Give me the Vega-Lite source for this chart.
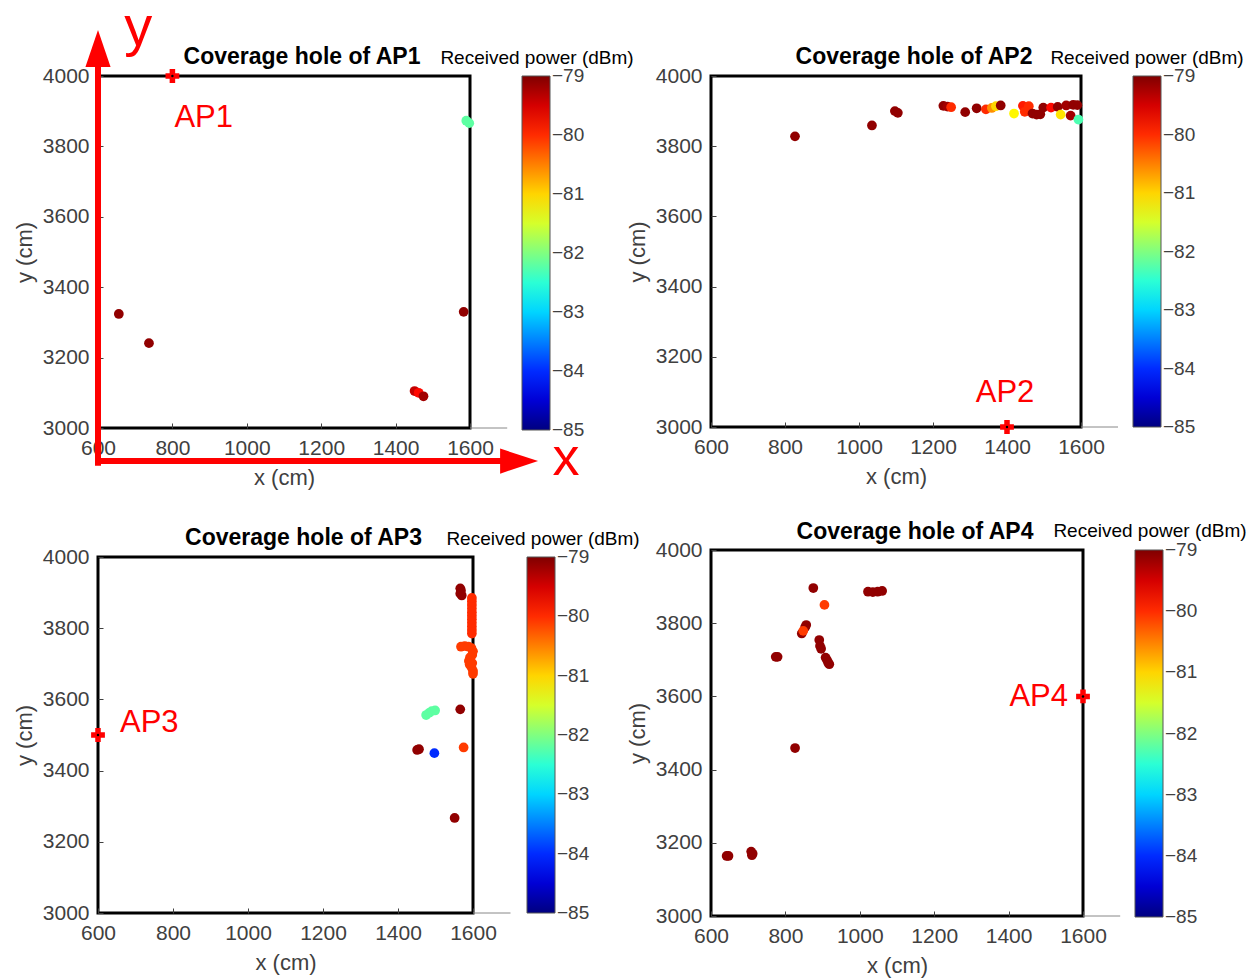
{
  "$schema": "https://vega.github.io/schema/vega-lite/v6.json",
  "background": "white",
  "padding": {"left": 11, "top": -2, "right": 5, "bottom": 5},
  "datasets": {
    "pts": [
      {"ap": "AP1", "x": 656, "y": 3324, "p": -79.1},
      {"ap": "AP1", "x": 737, "y": 3241, "p": -79.1},
      {"ap": "AP1", "x": 1451, "y": 3105, "p": -79.4},
      {"ap": "AP1", "x": 1462, "y": 3100, "p": -79.8},
      {"ap": "AP1", "x": 1475, "y": 3090, "p": -79.2},
      {"ap": "AP1", "x": 1583, "y": 3330, "p": -79.1},
      {"ap": "AP1", "x": 1590, "y": 3873, "p": -82.2},
      {"ap": "AP1", "x": 1598, "y": 3866, "p": -82.2},
      {"ap": "AP2", "x": 827, "y": 3828, "p": -79.1},
      {"ap": "AP2", "x": 1035, "y": 3859, "p": -79.1},
      {"ap": "AP2", "x": 1097, "y": 3900, "p": -79.1},
      {"ap": "AP2", "x": 1105, "y": 3895, "p": -79.1},
      {"ap": "AP2", "x": 1228, "y": 3915, "p": -79.1},
      {"ap": "AP2", "x": 1239, "y": 3913, "p": -79.2},
      {"ap": "AP2", "x": 1249, "y": 3911, "p": -80.0},
      {"ap": "AP2", "x": 1287, "y": 3897, "p": -79.1},
      {"ap": "AP2", "x": 1318, "y": 3908, "p": -79.1},
      {"ap": "AP2", "x": 1343, "y": 3905, "p": -80.0},
      {"ap": "AP2", "x": 1359, "y": 3909, "p": -80.6},
      {"ap": "AP2", "x": 1370, "y": 3914, "p": -81.0},
      {"ap": "AP2", "x": 1383, "y": 3916, "p": -79.1},
      {"ap": "AP2", "x": 1419, "y": 3893, "p": -81.2},
      {"ap": "AP2", "x": 1443, "y": 3915, "p": -79.9},
      {"ap": "AP2", "x": 1448, "y": 3898, "p": -80.0},
      {"ap": "AP2", "x": 1459, "y": 3914, "p": -80.0},
      {"ap": "AP2", "x": 1469, "y": 3893, "p": -79.1},
      {"ap": "AP2", "x": 1480, "y": 3890, "p": -79.1},
      {"ap": "AP2", "x": 1490, "y": 3891, "p": -79.1},
      {"ap": "AP2", "x": 1498, "y": 3910, "p": -79.1},
      {"ap": "AP2", "x": 1519, "y": 3910, "p": -79.8},
      {"ap": "AP2", "x": 1537, "y": 3912, "p": -79.1},
      {"ap": "AP2", "x": 1545, "y": 3890, "p": -81.1},
      {"ap": "AP2", "x": 1560, "y": 3916, "p": -79.2},
      {"ap": "AP2", "x": 1572, "y": 3887, "p": -79.2},
      {"ap": "AP2", "x": 1579, "y": 3918, "p": -79.1},
      {"ap": "AP2", "x": 1590, "y": 3917, "p": -79.1},
      {"ap": "AP2", "x": 1593, "y": 3876, "p": -82.3},
      {"ap": "AP3", "x": 1566, "y": 3912, "p": -79.1},
      {"ap": "AP3", "x": 1568, "y": 3905, "p": -79.1},
      {"ap": "AP3", "x": 1566, "y": 3897, "p": -79.1},
      {"ap": "AP3", "x": 1570, "y": 3892, "p": -79.1},
      {"ap": "AP3", "x": 1597, "y": 3785, "p": -80.0},
      {"ap": "AP3", "x": 1597, "y": 3795, "p": -80.0},
      {"ap": "AP3", "x": 1597, "y": 3805, "p": -80.0},
      {"ap": "AP3", "x": 1597, "y": 3815, "p": -80.0},
      {"ap": "AP3", "x": 1597, "y": 3825, "p": -80.0},
      {"ap": "AP3", "x": 1597, "y": 3835, "p": -80.0},
      {"ap": "AP3", "x": 1597, "y": 3845, "p": -80.0},
      {"ap": "AP3", "x": 1597, "y": 3855, "p": -80.0},
      {"ap": "AP3", "x": 1597, "y": 3865, "p": -80.0},
      {"ap": "AP3", "x": 1597, "y": 3875, "p": -80.0},
      {"ap": "AP3", "x": 1597, "y": 3885, "p": -80.0},
      {"ap": "AP3", "x": 1568, "y": 3748, "p": -80.1},
      {"ap": "AP3", "x": 1578, "y": 3750, "p": -80.1},
      {"ap": "AP3", "x": 1588, "y": 3748, "p": -80.1},
      {"ap": "AP3", "x": 1596, "y": 3744, "p": -80.1},
      {"ap": "AP3", "x": 1600, "y": 3735, "p": -80.1},
      {"ap": "AP3", "x": 1598, "y": 3725, "p": -80.1},
      {"ap": "AP3", "x": 1592, "y": 3718, "p": -80.1},
      {"ap": "AP3", "x": 1589, "y": 3708, "p": -80.1},
      {"ap": "AP3", "x": 1591, "y": 3698, "p": -80.1},
      {"ap": "AP3", "x": 1596, "y": 3690, "p": -80.1},
      {"ap": "AP3", "x": 1600, "y": 3680, "p": -80.1},
      {"ap": "AP3", "x": 1600, "y": 3672, "p": -80.1},
      {"ap": "AP3", "x": 1598, "y": 3702, "p": -80.1},
      {"ap": "AP3", "x": 1475, "y": 3556, "p": -82.2},
      {"ap": "AP3", "x": 1483, "y": 3562, "p": -82.2},
      {"ap": "AP3", "x": 1490, "y": 3567, "p": -82.2},
      {"ap": "AP3", "x": 1499, "y": 3569, "p": -82.2},
      {"ap": "AP3", "x": 1566, "y": 3572, "p": -79.1},
      {"ap": "AP3", "x": 1451, "y": 3458, "p": -79.1},
      {"ap": "AP3", "x": 1456, "y": 3460, "p": -79.1},
      {"ap": "AP3", "x": 1497, "y": 3449, "p": -84.0},
      {"ap": "AP3", "x": 1575, "y": 3465, "p": -80.1},
      {"ap": "AP3", "x": 1551, "y": 3267, "p": -79.1},
      {"ap": "AP4", "x": 875, "y": 3896, "p": -79.1},
      {"ap": "AP4", "x": 905, "y": 3850, "p": -80.1},
      {"ap": "AP4", "x": 856, "y": 3795, "p": -79.1},
      {"ap": "AP4", "x": 853, "y": 3789, "p": -79.1},
      {"ap": "AP4", "x": 844, "y": 3772, "p": -79.1},
      {"ap": "AP4", "x": 848, "y": 3779, "p": -80.1},
      {"ap": "AP4", "x": 891, "y": 3754, "p": -79.1},
      {"ap": "AP4", "x": 893, "y": 3738, "p": -79.1},
      {"ap": "AP4", "x": 896, "y": 3730, "p": -79.1},
      {"ap": "AP4", "x": 908, "y": 3706, "p": -79.1},
      {"ap": "AP4", "x": 912, "y": 3699, "p": -79.1},
      {"ap": "AP4", "x": 915, "y": 3692, "p": -79.1},
      {"ap": "AP4", "x": 918, "y": 3688, "p": -79.1},
      {"ap": "AP4", "x": 779, "y": 3708, "p": -79.1},
      {"ap": "AP4", "x": 774, "y": 3708, "p": -79.1},
      {"ap": "AP4", "x": 826, "y": 3459, "p": -79.1},
      {"ap": "AP4", "x": 642, "y": 3164, "p": -79.1},
      {"ap": "AP4", "x": 647, "y": 3164, "p": -79.1},
      {"ap": "AP4", "x": 708, "y": 3176, "p": -79.1},
      {"ap": "AP4", "x": 710, "y": 3166, "p": -79.1},
      {"ap": "AP4", "x": 712, "y": 3170, "p": -79.1},
      {"ap": "AP4", "x": 1022, "y": 3886, "p": -79.1},
      {"ap": "AP4", "x": 1035, "y": 3885, "p": -79.1},
      {"ap": "AP4", "x": 1048, "y": 3886, "p": -79.1},
      {"ap": "AP4", "x": 1060, "y": 3888, "p": -79.1}
    ],
    "aps": [
      {"ap": "AP1", "x": 800, "y": 4000},
      {"ap": "AP2", "x": 1400, "y": 3000},
      {"ap": "AP3", "x": 600, "y": 3500},
      {"ap": "AP4", "x": 1600, "y": 3600}
    ]
  },
  "bounds": "flush",
  "spacing": 613,
  "resolve": {"scale": {"color": "independent"}, "legend": {"color": "independent"}},
  "hconcat": [
    {
      "bounds": "flush",
      "spacing": 129,
      "resolve": {"scale": {"color": "independent"}, "legend": {"color": "independent"}},
      "vconcat": [
        {
          "width": 372, "height": 352,
          "title": {"text": "Coverage hole of AP1", "offset": -69, "dx": 18},
          "layer": [
            {
              "data": {"name": "pts"},
              "transform": [{"filter": "datum.ap == 'AP1'"}],
              "mark": {"type": "circle", "size": 95, "opacity": 1},
              "encoding": {
                "x": {"field": "x", "type": "quantitative", "title": "x (cm)", "scale": {"domain": [600, 1600], "nice": false, "zero": false}, "axis": {"values": [600, 800, 1000, 1200, 1400, 1600]}},
                "y": {"field": "y", "type": "quantitative", "title": "y (cm)", "scale": {"domain": [3000, 4000], "nice": false, "zero": false}, "axis": {"values": [3000, 3200, 3400, 3600, 3800, 4000]}},
                "color": {"field": "p", "type": "quantitative",
                  "scale": {"domain": [-85, -84.25, -82.75, -81.25, -79.75, -79], "range": ["#000080", "#0000ff", "#00ffff", "#ffff00", "#ff0000", "#800000"], "interpolate": "rgb"},
                  "legend": {"gradientLength": 354, "offset": 52, "encoding": {"labels": {"baseline": {"value": "middle"}}}}}
              }
            },
            {
              "data": {"name": "aps"},
              "transform": [{"filter": "datum.ap == 'AP1'"}],
              "layer": [
                {"mark": {"type": "point", "shape": "cross", "filled": true, "color": "#ff0000", "size": 190, "opacity": 1}},
                {"mark": {"type": "circle", "color": "#000000", "size": 6, "opacity": 1}},
                {"mark": {"type": "text", "color": "#ff0000", "fontSize": 31, "align": "left", "baseline": "alphabetic", "dx": 2, "dy": 51}, "encoding": {"text": {"field": "ap"}}}
              ],
              "encoding": {"x": {"field": "x", "type": "quantitative"}, "y": {"field": "y", "type": "quantitative"}}
            },
            {
              "data": {"values": [{}]},
              "mark": {"type": "text", "color": "#000000", "fontSize": 19, "align": "center", "baseline": "alphabetic", "dx": 67, "dy": -12},
              "encoding": {"x": {"datum": 1600}, "y": {"datum": 4000}, "text": {"value": "Received power (dBm)"}}
            },
            {
              "data": {"values": [{}]},
              "mark": {"type": "rule", "color": "#888888", "strokeWidth": 1},
              "encoding": {"x": {"datum": 1600}, "x2": {"datum": 1700}, "y": {"datum": 3000}}
            },
            {
              "data": {"values": [{}]},
              "mark": {"type": "rule", "color": "#ff0000", "strokeWidth": 6},
              "encoding": {"x": {"datum": 600}, "y": {"datum": 2893}, "y2": {"datum": 4065}}
            },
            {
              "data": {"values": [{}]},
              "mark": {"type": "rule", "color": "#ff0000", "strokeWidth": 6},
              "encoding": {"x": {"datum": 592}, "x2": {"datum": 1700}, "y": {"datum": 2906}}
            },
            {
              "data": {"values": [{}]},
              "mark": {"type": "point", "shape": "M -0.68 1 L 0 -1 L 0.68 1 Z", "filled": true, "color": "#ff0000", "size": 1369, "opacity": 1},
              "encoding": {"x": {"datum": 600}, "y": {"datum": 4078}}
            },
            {
              "data": {"values": [{}]},
              "mark": {"type": "point", "shape": "M -1 -0.66 L 1 0 L -1 0.66 Z", "filled": true, "color": "#ff0000", "size": 1444, "opacity": 1},
              "encoding": {"x": {"datum": 1732}, "y": {"datum": 2906}}
            },
            {
              "data": {"values": [{}]},
              "mark": {"type": "text", "color": "#ff0000", "fontSize": 56, "align": "center", "baseline": "alphabetic"},
              "encoding": {"x": {"datum": 708}, "y": {"datum": 4089}, "text": {"value": "y"}}
            },
            {
              "data": {"values": [{}]},
              "mark": {"type": "text", "color": "#ff0000", "fontSize": 54, "align": "center", "baseline": "alphabetic"},
              "encoding": {"x": {"datum": 1858}, "y": {"datum": 2866}, "text": {"value": "x"}}
            }
          ]
        },
        {
          "width": 375, "height": 356,
          "title": {"text": "Coverage hole of AP3", "offset": -20, "dx": 18},
          "layer": [
            {
              "data": {"name": "pts"},
              "transform": [{"filter": "datum.ap == 'AP3'"}],
              "mark": {"type": "circle", "size": 95, "opacity": 1},
              "encoding": {
                "x": {"field": "x", "type": "quantitative", "title": "x (cm)", "scale": {"domain": [600, 1600], "nice": false, "zero": false}, "axis": {"values": [600, 800, 1000, 1200, 1400, 1600]}},
                "y": {"field": "y", "type": "quantitative", "title": "y (cm)", "scale": {"domain": [3000, 4000], "nice": false, "zero": false}, "axis": {"values": [3000, 3200, 3400, 3600, 3800, 4000]}},
                "color": {"field": "p", "type": "quantitative",
                  "scale": {"domain": [-85, -84.25, -82.75, -81.25, -79.75, -79], "range": ["#000080", "#0000ff", "#00ffff", "#ffff00", "#ff0000", "#800000"], "interpolate": "rgb"},
                  "legend": {"gradientLength": 356, "offset": 54, "encoding": {"labels": {"baseline": {"value": "middle"}}}}}
              }
            },
            {
              "data": {"name": "aps"},
              "transform": [{"filter": "datum.ap == 'AP3'"}],
              "layer": [
                {"mark": {"type": "point", "shape": "cross", "filled": true, "color": "#ff0000", "size": 190, "opacity": 1}},
                {"mark": {"type": "circle", "color": "#000000", "size": 6, "opacity": 1}},
                {"mark": {"type": "text", "color": "#ff0000", "fontSize": 31, "align": "left", "baseline": "alphabetic", "dx": 22, "dy": -3}, "encoding": {"text": {"field": "ap"}}}
              ],
              "encoding": {"x": {"field": "x", "type": "quantitative"}, "y": {"field": "y", "type": "quantitative"}}
            },
            {
              "data": {"values": [{}]},
              "mark": {"type": "text", "color": "#000000", "fontSize": 19, "align": "center", "baseline": "alphabetic", "dx": 70, "dy": -12},
              "encoding": {"x": {"datum": 1600}, "y": {"datum": 4000}, "text": {"value": "Received power (dBm)"}}
            },
            {
              "data": {"values": [{}]},
              "mark": {"type": "rule", "color": "#888888", "strokeWidth": 1},
              "encoding": {"x": {"datum": 1600}, "x2": {"datum": 1700}, "y": {"datum": 3000}}
            }
          ]
        }
      ]
    },
    {
      "bounds": "flush",
      "spacing": 123,
      "resolve": {"scale": {"color": "independent"}, "legend": {"color": "independent"}},
      "vconcat": [
        {
          "width": 370, "height": 351,
          "title": {"text": "Coverage hole of AP2", "offset": -20, "dx": 18},
          "layer": [
            {
              "data": {"name": "pts"},
              "transform": [{"filter": "datum.ap == 'AP2'"}],
              "mark": {"type": "circle", "size": 95, "opacity": 1},
              "encoding": {
                "x": {"field": "x", "type": "quantitative", "title": "x (cm)", "scale": {"domain": [600, 1600], "nice": false, "zero": false}, "axis": {"values": [600, 800, 1000, 1200, 1400, 1600]}},
                "y": {"field": "y", "type": "quantitative", "title": "y (cm)", "scale": {"domain": [3000, 4000], "nice": false, "zero": false}, "axis": {"values": [3000, 3200, 3400, 3600, 3800, 4000]}},
                "color": {"field": "p", "type": "quantitative",
                  "scale": {"domain": [-85, -84.25, -82.75, -81.25, -79.75, -79], "range": ["#000080", "#0000ff", "#00ffff", "#ffff00", "#ff0000", "#800000"], "interpolate": "rgb"},
                  "legend": {"gradientLength": 351, "offset": 52, "encoding": {"labels": {"baseline": {"value": "middle"}}}}}
              }
            },
            {
              "data": {"name": "aps"},
              "transform": [{"filter": "datum.ap == 'AP2'"}],
              "layer": [
                {"mark": {"type": "point", "shape": "cross", "filled": true, "color": "#ff0000", "size": 190, "opacity": 1}},
                {"mark": {"type": "circle", "color": "#000000", "size": 6, "opacity": 1}},
                {"mark": {"type": "text", "color": "#ff0000", "fontSize": 31, "align": "center", "baseline": "alphabetic", "dx": -2, "dy": -25}, "encoding": {"text": {"field": "ap"}}}
              ],
              "encoding": {"x": {"field": "x", "type": "quantitative"}, "y": {"field": "y", "type": "quantitative"}}
            },
            {
              "data": {"values": [{}]},
              "mark": {"type": "text", "color": "#000000", "fontSize": 19, "align": "center", "baseline": "alphabetic", "dx": 66, "dy": -12},
              "encoding": {"x": {"datum": 1600}, "y": {"datum": 4000}, "text": {"value": "Received power (dBm)"}}
            },
            {
              "data": {"values": [{}]},
              "mark": {"type": "rule", "color": "#888888", "strokeWidth": 1},
              "encoding": {"x": {"datum": 1600}, "x2": {"datum": 1700}, "y": {"datum": 3000}}
            }
          ]
        },
        {
          "width": 372, "height": 366,
          "title": {"text": "Coverage hole of AP4", "offset": -22, "dx": 18},
          "layer": [
            {
              "data": {"name": "pts"},
              "transform": [{"filter": "datum.ap == 'AP4'"}],
              "mark": {"type": "circle", "size": 95, "opacity": 1},
              "encoding": {
                "x": {"field": "x", "type": "quantitative", "title": "x (cm)", "scale": {"domain": [600, 1600], "nice": false, "zero": false}, "axis": {"values": [600, 800, 1000, 1200, 1400, 1600]}},
                "y": {"field": "y", "type": "quantitative", "title": "y (cm)", "scale": {"domain": [3000, 4000], "nice": false, "zero": false}, "axis": {"values": [3000, 3200, 3400, 3600, 3800, 4000]}},
                "color": {"field": "p", "type": "quantitative",
                  "scale": {"domain": [-85, -84.25, -82.75, -81.25, -79.75, -79], "range": ["#000080", "#0000ff", "#00ffff", "#ffff00", "#ff0000", "#800000"], "interpolate": "rgb"},
                  "legend": {"gradientLength": 367, "offset": 52, "encoding": {"labels": {"baseline": {"value": "middle"}}}}}
              }
            },
            {
              "data": {"name": "aps"},
              "transform": [{"filter": "datum.ap == 'AP4'"}],
              "layer": [
                {"mark": {"type": "point", "shape": "cross", "filled": true, "color": "#ff0000", "size": 190, "opacity": 1}},
                {"mark": {"type": "circle", "color": "#000000", "size": 6, "opacity": 1}},
                {"mark": {"type": "text", "color": "#ff0000", "fontSize": 31, "align": "right", "baseline": "alphabetic", "dx": -15, "dy": 10}, "encoding": {"text": {"field": "ap"}}}
              ],
              "encoding": {"x": {"field": "x", "type": "quantitative"}, "y": {"field": "y", "type": "quantitative"}}
            },
            {
              "data": {"values": [{}]},
              "mark": {"type": "text", "color": "#000000", "fontSize": 19, "align": "center", "baseline": "alphabetic", "dx": 67, "dy": -13},
              "encoding": {"x": {"datum": 1600}, "y": {"datum": 4000}, "text": {"value": "Received power (dBm)"}}
            },
            {
              "data": {"values": [{}]},
              "mark": {"type": "rule", "color": "#888888", "strokeWidth": 1},
              "encoding": {"x": {"datum": 1600}, "x2": {"datum": 1700}, "y": {"datum": 3000}}
            }
          ]
        }
      ]
    }
  ],
  "config": {
    "font": "Liberation Sans",
    "view": {"stroke": "#000000", "strokeWidth": 3},
    "axis": {"grid": false, "domain": false, "format": "d", "labelFlush": false, "labelOverlap": false, "labelFont": "Liberation Sans", "titleFont": "Liberation Sans", "labelFontSize": 21, "titleFontSize": 22, "titleFontWeight": "normal", "labelColor": "#404040", "titleColor": "#404040", "tickColor": "#404040", "tickSize": -5, "labelPadding": 14, "titlePadding": 6},
    "axisX": {"titlePadding": 9},
    "title": {"font": "Liberation Sans", "fontSize": 23, "fontWeight": "bold", "color": "#000000", "anchor": "middle", "frame": "group", "baseline": "alphabetic"},
    "legend": {"title": null, "orient": "right", "padding": 0, "labelFont": "Liberation Sans", "labelFontSize": 19, "labelColor": "#404040", "labelOffset": 6, "gradientThickness": 28, "gradientStrokeColor": "#555555", "gradientStrokeWidth": 1, "values": [-79, -80, -81, -82, -83, -84, -85], "labelExpr": "'' + datum.value"}
  }
}
